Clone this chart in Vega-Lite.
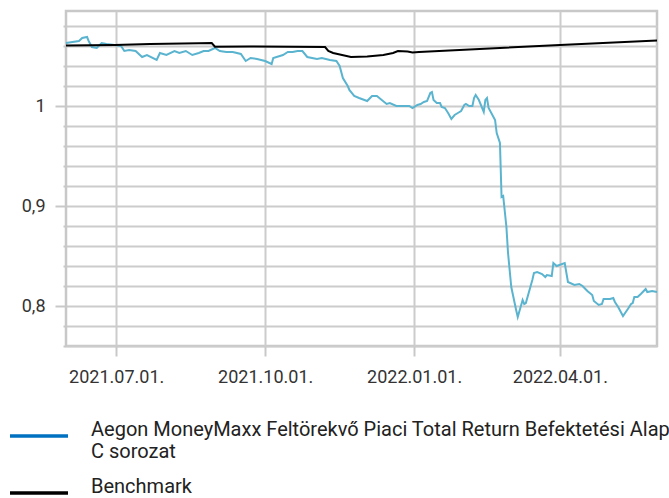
{
  "$schema": "https://vega.github.io/schema/vega-lite/v6.json",
  "width": 591,
  "height": 335,
  "autosize": {"type": "none"},
  "padding": {"left": 66, "top": 11, "right": 12, "bottom": 152},
  "background": "white",
  "config": {
    "font": "Roboto",
    "view": {"stroke": "#c8c8c8", "strokeWidth": 2.5},
    "axis": {"labelFont": "Roboto", "labelFontSize": 18, "labelColor": "#333333", "gridColor": "#cccccc", "gridWidth": 2, "tickColor": "#c8c8c8", "tickWidth": 2, "domain": false, "title": null}
  },
  "data": {"values": [
    {"date": "2021-05-31", "series": "Aegon MoneyMaxx Feltörekvő Piaci Total Return Befektetési Alap C sorozat", "value": 1.063},
    {"date": "2021-06-08", "series": "Aegon MoneyMaxx Feltörekvő Piaci Total Return Befektetési Alap C sorozat", "value": 1.065},
    {"date": "2021-06-10", "series": "Aegon MoneyMaxx Feltörekvő Piaci Total Return Befektetési Alap C sorozat", "value": 1.068},
    {"date": "2021-06-13", "series": "Aegon MoneyMaxx Feltörekvő Piaci Total Return Befektetési Alap C sorozat", "value": 1.069},
    {"date": "2021-06-14", "series": "Aegon MoneyMaxx Feltörekvő Piaci Total Return Befektetési Alap C sorozat", "value": 1.065},
    {"date": "2021-06-16", "series": "Aegon MoneyMaxx Feltörekvő Piaci Total Return Befektetési Alap C sorozat", "value": 1.059},
    {"date": "2021-06-19", "series": "Aegon MoneyMaxx Feltörekvő Piaci Total Return Befektetési Alap C sorozat", "value": 1.058},
    {"date": "2021-06-22", "series": "Aegon MoneyMaxx Feltörekvő Piaci Total Return Befektetési Alap C sorozat", "value": 1.063},
    {"date": "2021-06-25", "series": "Aegon MoneyMaxx Feltörekvő Piaci Total Return Befektetési Alap C sorozat", "value": 1.062},
    {"date": "2021-06-30", "series": "Aegon MoneyMaxx Feltörekvő Piaci Total Return Befektetési Alap C sorozat", "value": 1.061},
    {"date": "2021-07-04", "series": "Aegon MoneyMaxx Feltörekvő Piaci Total Return Befektetési Alap C sorozat", "value": 1.060},
    {"date": "2021-07-06", "series": "Aegon MoneyMaxx Feltörekvő Piaci Total Return Befektetési Alap C sorozat", "value": 1.055},
    {"date": "2021-07-09", "series": "Aegon MoneyMaxx Feltörekvő Piaci Total Return Befektetési Alap C sorozat", "value": 1.056},
    {"date": "2021-07-13", "series": "Aegon MoneyMaxx Feltörekvő Piaci Total Return Befektetési Alap C sorozat", "value": 1.055},
    {"date": "2021-07-17", "series": "Aegon MoneyMaxx Feltörekvő Piaci Total Return Befektetési Alap C sorozat", "value": 1.049},
    {"date": "2021-07-20", "series": "Aegon MoneyMaxx Feltörekvő Piaci Total Return Befektetési Alap C sorozat", "value": 1.051},
    {"date": "2021-07-26", "series": "Aegon MoneyMaxx Feltörekvő Piaci Total Return Befektetési Alap C sorozat", "value": 1.046},
    {"date": "2021-07-28", "series": "Aegon MoneyMaxx Feltörekvő Piaci Total Return Befektetési Alap C sorozat", "value": 1.053},
    {"date": "2021-08-01", "series": "Aegon MoneyMaxx Feltörekvő Piaci Total Return Befektetési Alap C sorozat", "value": 1.051},
    {"date": "2021-08-06", "series": "Aegon MoneyMaxx Feltörekvő Piaci Total Return Befektetési Alap C sorozat", "value": 1.055},
    {"date": "2021-08-09", "series": "Aegon MoneyMaxx Feltörekvő Piaci Total Return Befektetési Alap C sorozat", "value": 1.053},
    {"date": "2021-08-13", "series": "Aegon MoneyMaxx Feltörekvő Piaci Total Return Befektetési Alap C sorozat", "value": 1.055},
    {"date": "2021-08-17", "series": "Aegon MoneyMaxx Feltörekvő Piaci Total Return Befektetési Alap C sorozat", "value": 1.051},
    {"date": "2021-08-21", "series": "Aegon MoneyMaxx Feltörekvő Piaci Total Return Befektetési Alap C sorozat", "value": 1.053},
    {"date": "2021-08-24", "series": "Aegon MoneyMaxx Feltörekvő Piaci Total Return Befektetési Alap C sorozat", "value": 1.055},
    {"date": "2021-08-27", "series": "Aegon MoneyMaxx Feltörekvő Piaci Total Return Befektetési Alap C sorozat", "value": 1.055},
    {"date": "2021-08-31", "series": "Aegon MoneyMaxx Feltörekvő Piaci Total Return Befektetési Alap C sorozat", "value": 1.058},
    {"date": "2021-09-03", "series": "Aegon MoneyMaxx Feltörekvő Piaci Total Return Befektetési Alap C sorozat", "value": 1.055},
    {"date": "2021-09-07", "series": "Aegon MoneyMaxx Feltörekvő Piaci Total Return Befektetési Alap C sorozat", "value": 1.054},
    {"date": "2021-09-11", "series": "Aegon MoneyMaxx Feltörekvő Piaci Total Return Befektetési Alap C sorozat", "value": 1.054},
    {"date": "2021-09-16", "series": "Aegon MoneyMaxx Feltörekvő Piaci Total Return Befektetési Alap C sorozat", "value": 1.052},
    {"date": "2021-09-19", "series": "Aegon MoneyMaxx Feltörekvő Piaci Total Return Befektetési Alap C sorozat", "value": 1.045},
    {"date": "2021-09-22", "series": "Aegon MoneyMaxx Feltörekvő Piaci Total Return Befektetési Alap C sorozat", "value": 1.048},
    {"date": "2021-09-26", "series": "Aegon MoneyMaxx Feltörekvő Piaci Total Return Befektetési Alap C sorozat", "value": 1.047},
    {"date": "2021-10-01", "series": "Aegon MoneyMaxx Feltörekvő Piaci Total Return Befektetési Alap C sorozat", "value": 1.045},
    {"date": "2021-10-05", "series": "Aegon MoneyMaxx Feltörekvő Piaci Total Return Befektetési Alap C sorozat", "value": 1.042},
    {"date": "2021-10-06", "series": "Aegon MoneyMaxx Feltörekvő Piaci Total Return Befektetési Alap C sorozat", "value": 1.048},
    {"date": "2021-10-12", "series": "Aegon MoneyMaxx Feltörekvő Piaci Total Return Befektetési Alap C sorozat", "value": 1.051},
    {"date": "2021-10-15", "series": "Aegon MoneyMaxx Feltörekvő Piaci Total Return Befektetési Alap C sorozat", "value": 1.054},
    {"date": "2021-10-18", "series": "Aegon MoneyMaxx Feltörekvő Piaci Total Return Befektetési Alap C sorozat", "value": 1.054},
    {"date": "2021-10-21", "series": "Aegon MoneyMaxx Feltörekvő Piaci Total Return Befektetési Alap C sorozat", "value": 1.055},
    {"date": "2021-10-24", "series": "Aegon MoneyMaxx Feltörekvő Piaci Total Return Befektetési Alap C sorozat", "value": 1.055},
    {"date": "2021-10-27", "series": "Aegon MoneyMaxx Feltörekvő Piaci Total Return Befektetési Alap C sorozat", "value": 1.049},
    {"date": "2021-11-02", "series": "Aegon MoneyMaxx Feltörekvő Piaci Total Return Befektetési Alap C sorozat", "value": 1.047},
    {"date": "2021-11-05", "series": "Aegon MoneyMaxx Feltörekvő Piaci Total Return Befektetési Alap C sorozat", "value": 1.048},
    {"date": "2021-11-10", "series": "Aegon MoneyMaxx Feltörekvő Piaci Total Return Befektetési Alap C sorozat", "value": 1.046},
    {"date": "2021-11-14", "series": "Aegon MoneyMaxx Feltörekvő Piaci Total Return Befektetési Alap C sorozat", "value": 1.045},
    {"date": "2021-11-16", "series": "Aegon MoneyMaxx Feltörekvő Piaci Total Return Befektetési Alap C sorozat", "value": 1.040},
    {"date": "2021-11-18", "series": "Aegon MoneyMaxx Feltörekvő Piaci Total Return Befektetési Alap C sorozat", "value": 1.028},
    {"date": "2021-11-21", "series": "Aegon MoneyMaxx Feltörekvő Piaci Total Return Befektetési Alap C sorozat", "value": 1.020},
    {"date": "2021-11-22", "series": "Aegon MoneyMaxx Feltörekvő Piaci Total Return Befektetési Alap C sorozat", "value": 1.016},
    {"date": "2021-11-25", "series": "Aegon MoneyMaxx Feltörekvő Piaci Total Return Befektetési Alap C sorozat", "value": 1.010},
    {"date": "2021-11-28", "series": "Aegon MoneyMaxx Feltörekvő Piaci Total Return Befektetési Alap C sorozat", "value": 1.008},
    {"date": "2021-12-03", "series": "Aegon MoneyMaxx Feltörekvő Piaci Total Return Befektetési Alap C sorozat", "value": 1.005},
    {"date": "2021-12-06", "series": "Aegon MoneyMaxx Feltörekvő Piaci Total Return Befektetési Alap C sorozat", "value": 1.010},
    {"date": "2021-12-09", "series": "Aegon MoneyMaxx Feltörekvő Piaci Total Return Befektetési Alap C sorozat", "value": 1.010},
    {"date": "2021-12-15", "series": "Aegon MoneyMaxx Feltörekvő Piaci Total Return Befektetési Alap C sorozat", "value": 1.002},
    {"date": "2021-12-17", "series": "Aegon MoneyMaxx Feltörekvő Piaci Total Return Befektetési Alap C sorozat", "value": 1.003},
    {"date": "2021-12-21", "series": "Aegon MoneyMaxx Feltörekvő Piaci Total Return Befektetési Alap C sorozat", "value": 1.000},
    {"date": "2021-12-29", "series": "Aegon MoneyMaxx Feltörekvő Piaci Total Return Befektetési Alap C sorozat", "value": 1.000},
    {"date": "2021-12-31", "series": "Aegon MoneyMaxx Feltörekvő Piaci Total Return Befektetési Alap C sorozat", "value": 0.998},
    {"date": "2022-01-03", "series": "Aegon MoneyMaxx Feltörekvő Piaci Total Return Befektetési Alap C sorozat", "value": 1.001},
    {"date": "2022-01-05", "series": "Aegon MoneyMaxx Feltörekvő Piaci Total Return Befektetési Alap C sorozat", "value": 1.002},
    {"date": "2022-01-07", "series": "Aegon MoneyMaxx Feltörekvő Piaci Total Return Befektetési Alap C sorozat", "value": 1.004},
    {"date": "2022-01-09", "series": "Aegon MoneyMaxx Feltörekvő Piaci Total Return Befektetési Alap C sorozat", "value": 1.005},
    {"date": "2022-01-11", "series": "Aegon MoneyMaxx Feltörekvő Piaci Total Return Befektetési Alap C sorozat", "value": 1.013},
    {"date": "2022-01-12", "series": "Aegon MoneyMaxx Feltörekvő Piaci Total Return Befektetési Alap C sorozat", "value": 1.014},
    {"date": "2022-01-13", "series": "Aegon MoneyMaxx Feltörekvő Piaci Total Return Befektetési Alap C sorozat", "value": 1.006},
    {"date": "2022-01-15", "series": "Aegon MoneyMaxx Feltörekvő Piaci Total Return Befektetési Alap C sorozat", "value": 1.003},
    {"date": "2022-01-17", "series": "Aegon MoneyMaxx Feltörekvő Piaci Total Return Befektetési Alap C sorozat", "value": 1.003},
    {"date": "2022-01-18", "series": "Aegon MoneyMaxx Feltörekvő Piaci Total Return Befektetési Alap C sorozat", "value": 0.999},
    {"date": "2022-01-20", "series": "Aegon MoneyMaxx Feltörekvő Piaci Total Return Befektetési Alap C sorozat", "value": 0.998},
    {"date": "2022-01-22", "series": "Aegon MoneyMaxx Feltörekvő Piaci Total Return Befektetési Alap C sorozat", "value": 0.993},
    {"date": "2022-01-24", "series": "Aegon MoneyMaxx Feltörekvő Piaci Total Return Befektetési Alap C sorozat", "value": 0.987},
    {"date": "2022-01-26", "series": "Aegon MoneyMaxx Feltörekvő Piaci Total Return Befektetési Alap C sorozat", "value": 0.991},
    {"date": "2022-01-28", "series": "Aegon MoneyMaxx Feltörekvő Piaci Total Return Befektetési Alap C sorozat", "value": 0.993},
    {"date": "2022-01-30", "series": "Aegon MoneyMaxx Feltörekvő Piaci Total Return Befektetési Alap C sorozat", "value": 0.995},
    {"date": "2022-02-01", "series": "Aegon MoneyMaxx Feltörekvő Piaci Total Return Befektetési Alap C sorozat", "value": 1.001},
    {"date": "2022-02-02", "series": "Aegon MoneyMaxx Feltörekvő Piaci Total Return Befektetési Alap C sorozat", "value": 1.002},
    {"date": "2022-02-04", "series": "Aegon MoneyMaxx Feltörekvő Piaci Total Return Befektetési Alap C sorozat", "value": 1.000},
    {"date": "2022-02-06", "series": "Aegon MoneyMaxx Feltörekvő Piaci Total Return Befektetési Alap C sorozat", "value": 1.000},
    {"date": "2022-02-07", "series": "Aegon MoneyMaxx Feltörekvő Piaci Total Return Befektetési Alap C sorozat", "value": 1.008},
    {"date": "2022-02-08", "series": "Aegon MoneyMaxx Feltörekvő Piaci Total Return Befektetési Alap C sorozat", "value": 1.011},
    {"date": "2022-02-10", "series": "Aegon MoneyMaxx Feltörekvő Piaci Total Return Befektetési Alap C sorozat", "value": 1.006},
    {"date": "2022-02-13", "series": "Aegon MoneyMaxx Feltörekvő Piaci Total Return Befektetési Alap C sorozat", "value": 0.994},
    {"date": "2022-02-14", "series": "Aegon MoneyMaxx Feltörekvő Piaci Total Return Befektetési Alap C sorozat", "value": 1.006},
    {"date": "2022-02-15", "series": "Aegon MoneyMaxx Feltörekvő Piaci Total Return Befektetési Alap C sorozat", "value": 1.008},
    {"date": "2022-02-16", "series": "Aegon MoneyMaxx Feltörekvő Piaci Total Return Befektetési Alap C sorozat", "value": 0.998},
    {"date": "2022-02-20", "series": "Aegon MoneyMaxx Feltörekvő Piaci Total Return Befektetési Alap C sorozat", "value": 0.986},
    {"date": "2022-02-21", "series": "Aegon MoneyMaxx Feltörekvő Piaci Total Return Befektetési Alap C sorozat", "value": 0.973},
    {"date": "2022-02-23", "series": "Aegon MoneyMaxx Feltörekvő Piaci Total Return Befektetési Alap C sorozat", "value": 0.963},
    {"date": "2022-02-24", "series": "Aegon MoneyMaxx Feltörekvő Piaci Total Return Befektetési Alap C sorozat", "value": 0.909},
    {"date": "2022-02-25", "series": "Aegon MoneyMaxx Feltörekvő Piaci Total Return Befektetési Alap C sorozat", "value": 0.910},
    {"date": "2022-02-27", "series": "Aegon MoneyMaxx Feltörekvő Piaci Total Return Befektetési Alap C sorozat", "value": 0.879},
    {"date": "2022-02-28", "series": "Aegon MoneyMaxx Feltörekvő Piaci Total Return Befektetési Alap C sorozat", "value": 0.853},
    {"date": "2022-03-02", "series": "Aegon MoneyMaxx Feltörekvő Piaci Total Return Befektetési Alap C sorozat", "value": 0.819},
    {"date": "2022-03-05", "series": "Aegon MoneyMaxx Feltörekvő Piaci Total Return Befektetési Alap C sorozat", "value": 0.796},
    {"date": "2022-03-06", "series": "Aegon MoneyMaxx Feltörekvő Piaci Total Return Befektetési Alap C sorozat", "value": 0.789},
    {"date": "2022-03-09", "series": "Aegon MoneyMaxx Feltörekvő Piaci Total Return Befektetési Alap C sorozat", "value": 0.806},
    {"date": "2022-03-10", "series": "Aegon MoneyMaxx Feltörekvő Piaci Total Return Befektetési Alap C sorozat", "value": 0.802},
    {"date": "2022-03-11", "series": "Aegon MoneyMaxx Feltörekvő Piaci Total Return Befektetési Alap C sorozat", "value": 0.803},
    {"date": "2022-03-15", "series": "Aegon MoneyMaxx Feltörekvő Piaci Total Return Befektetési Alap C sorozat", "value": 0.826},
    {"date": "2022-03-16", "series": "Aegon MoneyMaxx Feltörekvő Piaci Total Return Befektetési Alap C sorozat", "value": 0.833},
    {"date": "2022-03-18", "series": "Aegon MoneyMaxx Feltörekvő Piaci Total Return Befektetési Alap C sorozat", "value": 0.834},
    {"date": "2022-03-21", "series": "Aegon MoneyMaxx Feltörekvő Piaci Total Return Befektetési Alap C sorozat", "value": 0.832},
    {"date": "2022-03-23", "series": "Aegon MoneyMaxx Feltörekvő Piaci Total Return Befektetési Alap C sorozat", "value": 0.829},
    {"date": "2022-03-24", "series": "Aegon MoneyMaxx Feltörekvő Piaci Total Return Befektetési Alap C sorozat", "value": 0.831},
    {"date": "2022-03-27", "series": "Aegon MoneyMaxx Feltörekvő Piaci Total Return Befektetési Alap C sorozat", "value": 0.830},
    {"date": "2022-03-28", "series": "Aegon MoneyMaxx Feltörekvő Piaci Total Return Befektetési Alap C sorozat", "value": 0.843},
    {"date": "2022-03-30", "series": "Aegon MoneyMaxx Feltörekvő Piaci Total Return Befektetési Alap C sorozat", "value": 0.840},
    {"date": "2022-04-04", "series": "Aegon MoneyMaxx Feltörekvő Piaci Total Return Befektetési Alap C sorozat", "value": 0.843},
    {"date": "2022-04-06", "series": "Aegon MoneyMaxx Feltörekvő Piaci Total Return Befektetési Alap C sorozat", "value": 0.824},
    {"date": "2022-04-10", "series": "Aegon MoneyMaxx Feltörekvő Piaci Total Return Befektetési Alap C sorozat", "value": 0.821},
    {"date": "2022-04-13", "series": "Aegon MoneyMaxx Feltörekvő Piaci Total Return Befektetési Alap C sorozat", "value": 0.822},
    {"date": "2022-04-15", "series": "Aegon MoneyMaxx Feltörekvő Piaci Total Return Befektetési Alap C sorozat", "value": 0.820},
    {"date": "2022-04-18", "series": "Aegon MoneyMaxx Feltörekvő Piaci Total Return Befektetési Alap C sorozat", "value": 0.815},
    {"date": "2022-04-21", "series": "Aegon MoneyMaxx Feltörekvő Piaci Total Return Befektetési Alap C sorozat", "value": 0.811},
    {"date": "2022-04-22", "series": "Aegon MoneyMaxx Feltörekvő Piaci Total Return Befektetési Alap C sorozat", "value": 0.805},
    {"date": "2022-04-25", "series": "Aegon MoneyMaxx Feltörekvő Piaci Total Return Befektetési Alap C sorozat", "value": 0.801},
    {"date": "2022-04-27", "series": "Aegon MoneyMaxx Feltörekvő Piaci Total Return Befektetési Alap C sorozat", "value": 0.802},
    {"date": "2022-04-28", "series": "Aegon MoneyMaxx Feltörekvő Piaci Total Return Befektetési Alap C sorozat", "value": 0.807},
    {"date": "2022-05-02", "series": "Aegon MoneyMaxx Feltörekvő Piaci Total Return Befektetési Alap C sorozat", "value": 0.807},
    {"date": "2022-05-04", "series": "Aegon MoneyMaxx Feltörekvő Piaci Total Return Befektetési Alap C sorozat", "value": 0.808},
    {"date": "2022-05-05", "series": "Aegon MoneyMaxx Feltörekvő Piaci Total Return Befektetési Alap C sorozat", "value": 0.804},
    {"date": "2022-05-07", "series": "Aegon MoneyMaxx Feltörekvő Piaci Total Return Befektetési Alap C sorozat", "value": 0.799},
    {"date": "2022-05-10", "series": "Aegon MoneyMaxx Feltörekvő Piaci Total Return Befektetési Alap C sorozat", "value": 0.790},
    {"date": "2022-05-13", "series": "Aegon MoneyMaxx Feltörekvő Piaci Total Return Befektetési Alap C sorozat", "value": 0.797},
    {"date": "2022-05-15", "series": "Aegon MoneyMaxx Feltörekvő Piaci Total Return Befektetési Alap C sorozat", "value": 0.802},
    {"date": "2022-05-16", "series": "Aegon MoneyMaxx Feltörekvő Piaci Total Return Befektetési Alap C sorozat", "value": 0.803},
    {"date": "2022-05-17", "series": "Aegon MoneyMaxx Feltörekvő Piaci Total Return Befektetési Alap C sorozat", "value": 0.809},
    {"date": "2022-05-19", "series": "Aegon MoneyMaxx Feltörekvő Piaci Total Return Befektetési Alap C sorozat", "value": 0.809},
    {"date": "2022-05-21", "series": "Aegon MoneyMaxx Feltörekvő Piaci Total Return Befektetési Alap C sorozat", "value": 0.812},
    {"date": "2022-05-24", "series": "Aegon MoneyMaxx Feltörekvő Piaci Total Return Befektetési Alap C sorozat", "value": 0.817},
    {"date": "2022-05-25", "series": "Aegon MoneyMaxx Feltörekvő Piaci Total Return Befektetési Alap C sorozat", "value": 0.814},
    {"date": "2022-05-28", "series": "Aegon MoneyMaxx Feltörekvő Piaci Total Return Befektetési Alap C sorozat", "value": 0.815},
    {"date": "2022-05-31", "series": "Aegon MoneyMaxx Feltörekvő Piaci Total Return Befektetési Alap C sorozat", "value": 0.814},
    {"date": "2021-05-31", "series": "Benchmark", "value": 1.0605},
    {"date": "2021-06-30", "series": "Benchmark", "value": 1.061},
    {"date": "2021-07-22", "series": "Benchmark", "value": 1.062},
    {"date": "2021-08-21", "series": "Benchmark", "value": 1.0628},
    {"date": "2021-08-29", "series": "Benchmark", "value": 1.063},
    {"date": "2021-08-31", "series": "Benchmark", "value": 1.0593},
    {"date": "2021-09-22", "series": "Benchmark", "value": 1.0595},
    {"date": "2021-11-07", "series": "Benchmark", "value": 1.059},
    {"date": "2021-11-09", "series": "Benchmark", "value": 1.055},
    {"date": "2021-11-12", "series": "Benchmark", "value": 1.053},
    {"date": "2021-11-23", "series": "Benchmark", "value": 1.049},
    {"date": "2021-12-03", "series": "Benchmark", "value": 1.0495},
    {"date": "2021-12-13", "series": "Benchmark", "value": 1.051},
    {"date": "2021-12-19", "series": "Benchmark", "value": 1.053},
    {"date": "2021-12-22", "series": "Benchmark", "value": 1.055},
    {"date": "2021-12-28", "series": "Benchmark", "value": 1.0545},
    {"date": "2021-12-31", "series": "Benchmark", "value": 1.0535},
    {"date": "2022-01-04", "series": "Benchmark", "value": 1.054},
    {"date": "2022-04-01", "series": "Benchmark", "value": 1.061},
    {"date": "2022-05-31", "series": "Benchmark", "value": 1.0655}
  ]},
  "encoding": {
    "x": {
      "field": "date", "type": "temporal",
      "scale": {"type": "utc", "domain": [{"year": 2021, "month": 5, "date": 31, "utc": true}, {"year": 2022, "month": 5, "date": 31, "utc": true}]},
      "axis": {
        "values": [{"year": 2021, "month": 7, "date": 1, "utc": true}, {"year": 2021, "month": 10, "date": 1, "utc": true}, {"year": 2022, "month": 1, "date": 1, "utc": true}, {"year": 2022, "month": 4, "date": 1, "utc": true}],
        "labelExpr": "utcFormat(datum.value, '%Y.%m.%d.')", "tickSize": 10, "labelPadding": 12, "grid": true
      }
    },
    "y": {
      "field": "value", "type": "quantitative",
      "scale": {"domain": [0.76, 1.095], "nice": false, "zero": false},
      "axis": {
        "values": [0.76, 0.78, 0.8, 0.82, 0.84, 0.86, 0.88, 0.9, 0.92, 0.94, 0.96, 0.98, 1, 1.02, 1.04, 1.06, 1.08],
        "labelExpr": "abs(datum.value*10 - round(datum.value*10)) < 0.001 ? replace(format(datum.value, '~g'), '.', ',') : ''",
        "tickSize": {"condition": {"test": "abs(datum.value*10 - round(datum.value*10)) < 0.001", "value": 11}, "value": 3},
        "labelPadding": 10, "grid": true
      }
    }
  },
  "layer": [
    {
      "mark": {"type": "line", "strokeWidth": 2, "interpolate": "linear"},
      "encoding": {
        "stroke": {
          "field": "series", "type": "nominal",
          "scale": {"range": ["#5ab4cf", "#000000"]},
          "legend": null
        }
      }
    },
    {
      "transform": [{"filter": "false"}],
      "mark": {"type": "line", "strokeWidth": 2},
      "encoding": {
        "color": {
          "field": "series", "type": "nominal",
          "scale": {"domain": ["Aegon MoneyMaxx Feltörekvő Piaci Total Return Befektetési Alap C sorozat", "Benchmark"], "range": ["#0070c0", "#000000"]},
          "legend": {
            "title": null, "orient": "none", "legendX": -58, "legendY": 394, "direction": "vertical",
            "symbolType": "stroke", "symbolSize": 3364, "symbolStrokeWidth": 3.5,
            "labelFont": "Roboto", "labelFontSize": 20, "labelColor": "#222222", "labelLimit": 1000, "labelOffset": 21,
            "rowPadding": 0,
            "labelExpr": "datum.label == 'Benchmark' ? 'Benchmark' : ['Aegon MoneyMaxx Feltörekvő Piaci Total Return Befektetési Alap', 'C sorozat']",
            "encode": {
              "labels": {"update": {"lineHeight": {"value": 22}, "dy": {"value": -6}}}
            }
          }
        }
      }
    }
  ]
}
